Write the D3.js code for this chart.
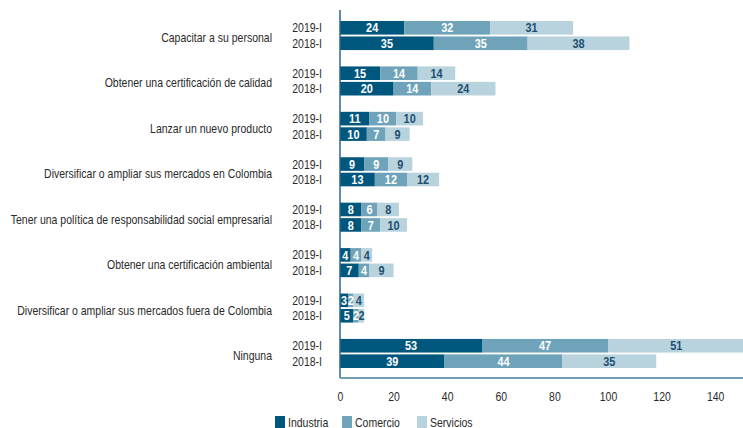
<!DOCTYPE html>
<html><head><meta charset="utf-8">
<script src="https://cdn.jsdelivr.net/npm/d3@7"></script>
<style>
body{margin:0;background:#fff;}
svg{display:block;}
text{font-family:"Liberation Sans",Arial,sans-serif;}
</style></head>
<body><svg id="c" width="743" height="428"></svg>
<script>
const categories = [
  "Capacitar a su personal",
  "Obtener una certificación de calidad",
  "Lanzar un nuevo producto",
  "Diversificar o ampliar sus mercados en Colombia",
  "Tener una política de responsabilidad social empresarial",
  "Obtener una certificación ambiental",
  "Diversificar o ampliar sus mercados fuera de Colombia",
  "Ninguna"
];
const years = ["2019-I", "2018-I"];
const seriesNames = ["Industria", "Comercio", "Servicios"];
const industria2019 = [24, 15, 11, 9, 8, 4, 3, 53];
const comercio2019  = [32, 14, 10, 9, 6, 4, 2, 47];
const servicios2019 = [31, 14, 10, 9, 8, 4, 4, 51];
const industria2018 = [35, 20, 10, 13, 8, 7, 5, 39];
const comercio2018  = [35, 14, 7, 12, 7, 4, 2, 44];
const servicios2018 = [38, 24, 9, 12, 10, 9, 2, 35];
const xTicks = [0, 20, 40, 60, 80, 100, 120, 140];

const colors = ["#00577d", "#6fa3b9", "#b9d3de"];
const labelColors = ["#ffffff", "#ffffff", "#1d4f6e"];
const SX = 0.84; // horizontal condensing of the narrow typeface

const svg = d3.select("#c");
const x = d3.scaleLinear().domain([0, 100]).range([340, 608]);
const y0 = d3.scaleBand().domain(categories).range([21, 368]).paddingInner(0.36).paddingOuter(0);
const y1 = d3.scaleBand().domain(years).range([0, y0.bandwidth()]).paddingInner(0.12);

const rows = [];
categories.forEach((c, i) => {
  const vals = {
    "2019-I": [industria2019[i], comercio2019[i], servicios2019[i]],
    "2018-I": [industria2018[i], comercio2018[i], servicios2018[i]]
  };
  years.forEach(yr => {
    let acc = 0;
    vals[yr].forEach((v, s) => {
      rows.push({cat: c, year: yr, s, v, x0: acc, x1: acc + v});
      acc += v;
    });
  });
});

const g = svg.append("g");
g.selectAll("rect.seg").data(rows).join("rect")
  .attr("class", "seg")
  .attr("x", d => x(d.x0))
  .attr("width", d => x(d.x1) - x(d.x0))
  .attr("y", d => y0(d.cat) + y1(d.year))
  .attr("height", y1.bandwidth())
  .attr("fill", d => colors[d.s]);

g.selectAll("text.val").data(rows).join("text")
  .attr("class", "val")
  .attr("transform", d => `translate(${(x(d.x0) + x(d.x1)) / 2},${y0(d.cat) + y1(d.year) + y1.bandwidth() / 2}) scale(${SX},1)`)
  .attr("dy", "0.36em")
  .attr("text-anchor", "middle")
  .attr("font-size", 13)
  .attr("font-weight", "bold")
  .attr("fill", d => labelColors[d.s])
  .text(d => d.v);

// category labels
svg.selectAll("text.cat").data(categories).join("text")
  .attr("class", "cat")
  .attr("transform", d => `translate(272,${y0(d) + y0.bandwidth() / 2 + 2}) scale(${SX},1)`)
  .attr("dy", "0.36em")
  .attr("text-anchor", "end")
  .attr("font-size", 12.5)
  .attr("fill", "#2a2a2a")
  .text(d => d);

// year labels
const yl = [];
categories.forEach(c => years.forEach(yr => yl.push({c, yr})));
svg.selectAll("text.yr").data(yl).join("text")
  .attr("class", "yr")
  .attr("transform", d => `translate(322,${y0(d.c) + y1(d.yr) + y1.bandwidth() / 2}) scale(${SX},1)`)
  .attr("dy", "0.36em")
  .attr("text-anchor", "end")
  .attr("font-size", 12.5)
  .attr("fill", "#2a2a2a")
  .text(d => d.yr);

// axes lines
svg.append("line").attr("x1", 340).attr("x2", 340).attr("y1", 10).attr("y2", 378)
  .attr("stroke", "#2f6485").attr("stroke-width", 1.5);
svg.append("line").attr("x1", 340).attr("x2", 743).attr("y1", 378).attr("y2", 378)
  .attr("stroke", "#6f9db5").attr("stroke-width", 2);

const ax = svg.append("g").attr("transform", "translate(0,392)")
  .call(d3.axisBottom(x).tickValues(xTicks).tickSize(0).tickPadding(0));
ax.select(".domain").remove();
ax.selectAll("text").attr("font-size", 12.5).attr("fill", "#2a2a2a")
  .attr("transform", `scale(${SX},1)`);
ax.selectAll(".tick text").attr("font-family", '"Liberation Sans",Arial,sans-serif');

// legend
const legX = [275, 342, 417];
const leg = svg.selectAll("g.leg").data(seriesNames).join("g")
  .attr("class", "leg")
  .attr("transform", (d, i) => `translate(${legX[i]},416)`);
leg.append("rect").attr("width", 10).attr("height", 12).attr("fill", (d, i) => colors[i]);
leg.append("text").attr("transform", `translate(13,11) scale(${SX},1)`)
  .attr("font-size", 12.5).attr("fill", "#2a2a2a").text(d => d);
</script></body></html>
